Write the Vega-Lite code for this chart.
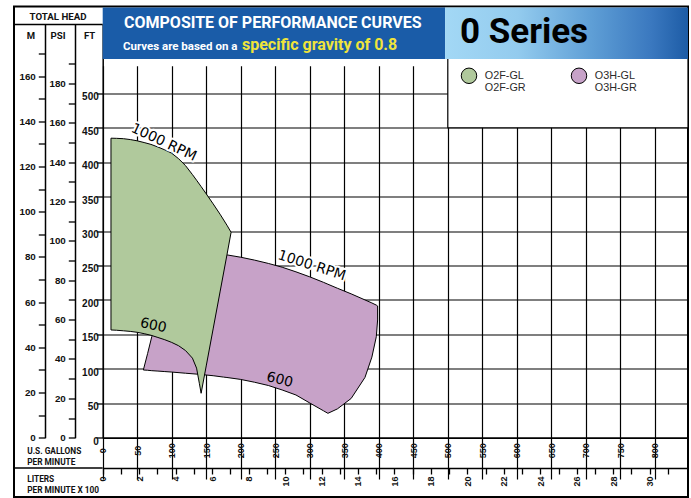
{
  "$schema": "https://vega.github.io/schema/vega-lite/v6.json",
  "width": 674,
  "height": 490.5,
  "autosize": {"type": "none"},
  "padding": {"left": 14, "top": 6.5, "right": 3, "bottom": 1},
  "background": "white",
  "config": {
    "view": {"stroke": "black", "strokeWidth": 2, "fill": "white"},
    "axis": {
      "domainColor": "black", "domainWidth": 1.5,
      "tickColor": "black", "tickWidth": 1.3,
      "gridColor": "black", "gridWidth": 1.2, "gridOpacity": 1,
      "labelColor": "#111", "labelFont": "Liberation Sans", "labelFontWeight": "bold",
      "labelFlush": false, "labelOverlap": false,
      "titleColor": "#111", "titleFont": "Roboto", "titleFontWeight": "bold"
    }
  },
  "datasets": {
    "curves": [
      {"model": "O3H", "gpm": 58.9, "head": 98.3, "head_low": 98.3},
      {"model": "O3H", "gpm": 65, "head": 122, "head_low": 97.9},
      {"model": "O3H", "gpm": 71.1, "head": 146.6, "head_low": 97.3},
      {"model": "O3H", "gpm": 80, "head": 168, "head_low": 96.7},
      {"model": "O3H", "gpm": 90, "head": 190, "head_low": 96.0},
      {"model": "O3H", "gpm": 100, "head": 208, "head_low": 95.3},
      {"model": "O3H", "gpm": 120, "head": 236, "head_low": 93.6},
      {"model": "O3H", "gpm": 140, "head": 255, "head_low": 92.0},
      {"model": "O3H", "gpm": 160, "head": 266, "head_low": 90.0},
      {"model": "O3H", "gpm": 175, "head": 270, "head_low": 88.0},
      {"model": "O3H", "gpm": 180, "head": 265.4, "head_low": 87.4},
      {"model": "O3H", "gpm": 200, "head": 262, "head_low": 84.6},
      {"model": "O3H", "gpm": 220, "head": 257.8, "head_low": 80.5},
      {"model": "O3H", "gpm": 240, "head": 253, "head_low": 75.8},
      {"model": "O3H", "gpm": 260, "head": 247.5, "head_low": 69.3},
      {"model": "O3H", "gpm": 280, "head": 240.8, "head_low": 62},
      {"model": "O3H", "gpm": 300, "head": 233.5, "head_low": 50.4},
      {"model": "O3H", "gpm": 320, "head": 225.5, "head_low": 39},
      {"model": "O3H", "gpm": 326.3, "head": 222.8, "head_low": 35.4},
      {"model": "O3H", "gpm": 340, "head": 217, "head_low": 41.8},
      {"model": "O3H", "gpm": 360, "head": 208.8, "head_low": 57},
      {"model": "O3H", "gpm": 380, "head": 200, "head_low": 87.5},
      {"model": "O3H", "gpm": 390, "head": 195.6, "head_low": 117},
      {"model": "O3H", "gpm": 396.4, "head": 192.5, "head_low": 146.6},
      {"model": "O3H", "gpm": 398.3, "head": 191.2, "head_low": 170.9},
      {"model": "O2F", "gpm": 12, "head": 434.8, "head_low": 156.4},
      {"model": "O2F", "gpm": 20, "head": 434.6, "head_low": 156.0},
      {"model": "O2F", "gpm": 30, "head": 434.1, "head_low": 155.2},
      {"model": "O2F", "gpm": 40, "head": 432.8, "head_low": 154.3},
      {"model": "O2F", "gpm": 50, "head": 431.0, "head_low": 153.0},
      {"model": "O2F", "gpm": 60, "head": 428.5, "head_low": 151.0},
      {"model": "O2F", "gpm": 70, "head": 425.8, "head_low": 148.7},
      {"model": "O2F", "gpm": 80, "head": 422.0, "head_low": 145.5},
      {"model": "O2F", "gpm": 90, "head": 417.8, "head_low": 142.2},
      {"model": "O2F", "gpm": 100, "head": 413.0, "head_low": 138.3},
      {"model": "O2F", "gpm": 110, "head": 405.0, "head_low": 133.5},
      {"model": "O2F", "gpm": 120, "head": 395.0, "head_low": 126.5},
      {"model": "O2F", "gpm": 130, "head": 382.0, "head_low": 115.5},
      {"model": "O2F", "gpm": 136, "head": 373.8, "head_low": 101},
      {"model": "O2F", "gpm": 140, "head": 368.2, "head_low": 79},
      {"model": "O2F", "gpm": 142.6, "head": 364.6, "head_low": 64.5},
      {"model": "O2F", "gpm": 150, "head": 354.0, "head_low": 104.2},
      {"model": "O2F", "gpm": 160, "head": 339.5, "head_low": 157.9},
      {"model": "O2F", "gpm": 170, "head": 324.5, "head_low": 211.6},
      {"model": "O2F", "gpm": 180, "head": 308.5, "head_low": 265.4},
      {"model": "O2F", "gpm": 186, "head": 298.2, "head_low": 298.2}
    ]
  },
  "resolve": {"axis": {"x": "independent", "y": "independent"}},
  "layer": [
    {
      "data": {"name": "curves"},
      "mark": {"type": "area", "stroke": "black", "strokeWidth": 1, "interpolate": "linear", "opacity": 1},
      "encoding": {
        "x": {
          "field": "gpm", "type": "quantitative",
          "scale": {"domain": [0, 848], "range": [88.7, 674], "nice": false, "zero": false},
          "axis": {
            "orient": "bottom", "offset": -59.3,
            "values": [0, 50, 100, 150, 200, 250, 300, 350, 400, 450, 500, 550, 600, 650, 700, 750, 800],
            "grid": true, "ticks": false, "domain": true,
            "labelAngle": 270, "labelAlign": "center", "labelBaseline": "middle", "labelPadding": 12.5, "labelFontSize": 9,
            "title": ["U.S. GALLONS", "PER MINUTE"], "titleX": 12.7, "titleY": 13.6, "titleAlign": "left", "titleBaseline": "middle",
            "titleAngle": 0, "titleFontSize": 8.3, "titleLineHeight": 11
          }
        },
        "y": {
          "field": "head", "type": "quantitative",
          "scale": {"domain": [0, 600], "range": [431.2, 17.9], "nice": false, "zero": false},
          "axis": {
            "orient": "left", "offset": -88.7,
            "values": [0, 50, 100, 150, 200, 250, 300, 350, 400, 450, 500],
            "grid": true, "tickSize": 6.5, "labelPadding": -2.1, "labelOffset": 3.4, "labelFontSize": 10,
            "title": "FT", "titleX": -13.7, "titleY": 28.5, "titleAngle": 0, "titleAlign": "center", "titleBaseline": "middle", "titleFontSize": 9.5
          }
        },
        "y2": {"field": "head_low"},
        "fill": {
          "field": "model", "type": "nominal",
          "scale": {"domain": ["O2F", "O3H"], "range": ["#b0c99c", "#c7a2c8"]},
          "legend": {
            "orient": "none", "legendX": 446.5, "legendY": 60.75, "direction": "horizontal", "columns": 2, "columnPadding": 42,
            "title": null, "padding": 0,
            "symbolType": "circle", "symbolSize": 240, "symbolStrokeColor": "black", "symbolStrokeWidth": 1, "symbolOpacity": 1,
            "labelFont": "Liberation Sans", "labelFontSize": 10.8, "labelColor": "#2a2a2a", "labelOffset": 7.3, "labelBaseline": "middle",
            "labelExpr": "datum.label == 'O2F' ? ['O2F-GL', 'O2F-GR'] : ['O3H-GL', 'O3H-GR']",
            "encode": {"labels": {"update": {"lineHeight": {"value": 12.6}}}}
          }
        }
      }
    },
    {
      "data": {"values": [{}]},
      "mark": {"type": "rect", "fill": "white", "stroke": "black", "strokeWidth": 1.2},
      "encoding": {
        "x": {
          "datum": 500, "type": "quantitative",
          "axis": {
            "orient": "bottom", "offset": -29,
            "values": [0, 26.417, 52.834, 79.251, 105.668, 132.085, 158.502, 184.919, 211.336, 237.753, 264.17, 290.587, 317.004, 343.421, 369.838, 396.255, 422.672, 449.089, 475.506, 501.923, 528.34, 554.757, 581.174, 607.591, 634.008, 660.425, 686.842, 713.259, 739.676, 766.093, 792.51, 818.927],
            "labelExpr": "round(datum.value / 26.417) % 2 == 0 ? '' + round(datum.value / 26.417) : ''",
            "grid": false, "ticks": true, "tickSize": 6, "domain": true,
            "labelAngle": 270, "labelAlign": "right", "labelBaseline": "middle", "labelPadding": 2, "labelFontSize": 9,
            "title": ["LITERS", "PER MINUTE X 100"], "titleX": 12.7, "titleY": 11.7, "titleAlign": "left", "titleBaseline": "middle",
            "titleAngle": 0, "titleFontSize": 8.3, "titleLineHeight": 10.5
          }
        },
        "x2": {"datum": 848},
        "y": {
          "datum": 450, "type": "quantitative",
          "axis": {
            "orient": "left", "offset": -31,
            "values": [0, 32.8084, 65.6168, 98.4252, 131.2336, 164.042, 196.8504, 229.6588, 262.4672, 295.2756, 328.084, 360.8924, 393.7008, 426.5092, 459.3176, 492.126, 524.9344, 557.7428],
            "labelExpr": "round(datum.value * 0.3048) % 20 == 0 ? '' + round(datum.value * 0.3048) : ''",
            "grid": false, "tickSize": 6.7, "labelPadding": 3, "labelFontSize": 9.8,
            "title": "M", "titleX": -14.6, "titleY": 28.5, "titleAngle": 0, "titleAlign": "center", "titleBaseline": "middle", "titleFontSize": 9.5
          }
        },
        "y2": {"datum": 560}
      }
    },
    {
      "data": {"values": [{}]},
      "mark": {"type": "rect", "fill": "#1a5ca8"},
      "encoding": {
        "x": {"datum": 0, "type": "quantitative", "axis": null},
        "x2": {"datum": 496},
        "y": {
          "datum": 549.8, "type": "quantitative",
          "axis": {
            "orient": "left", "offset": -61,
            "values": [0, 28.57, 57.14, 85.71, 114.28, 142.85, 171.42, 199.99, 228.56, 257.13, 285.7, 314.27, 342.84, 371.41, 399.98, 428.55, 457.12, 485.69, 514.26, 542.83],
            "labelExpr": "round(datum.value / 2.857) % 20 == 0 ? '' + round(datum.value / 2.857) : ''",
            "grid": false, "tickSize": 6.7, "labelPadding": 3, "labelFontSize": 9.8,
            "title": ["TOTAL HEAD", "PSI"], "titleX": -17.5, "titleY": 9.5, "titleAngle": 0, "titleAlign": "center", "titleBaseline": "middle",
            "titleFontSize": 9.7, "titleLineHeight": 19
          }
        },
        "y2": {"datum": 624.5}
      }
    },
    {
      "data": {"values": [{}]},
      "mark": {
        "type": "rect",
        "fill": {
          "gradient": "linear", "x1": 0, "y1": 0, "x2": 1, "y2": 0,
          "stops": [
            {"offset": 0, "color": "#a3d8f5"},
            {"offset": 0.3, "color": "#93cbee"},
            {"offset": 0.6, "color": "#5f9fd6"},
            {"offset": 0.85, "color": "#3a78bf"},
            {"offset": 1, "color": "#1d5ca6"}
          ]
        }
      },
      "encoding": {
        "x": {"datum": 496, "type": "quantitative", "axis": null},
        "x2": {"datum": 848},
        "y": {"datum": 549.8, "type": "quantitative", "axis": null},
        "y2": {"datum": 624.5}
      }
    },
    {
      "data": {"values": [{}]},
      "mark": {"type": "rule", "stroke": "black", "strokeWidth": 1.5},
      "encoding": {
        "x": {"datum": -128.5, "type": "quantitative", "axis": null},
        "x2": {"datum": 0},
        "y": {"datum": 600, "type": "quantitative", "axis": null}
      }
    },
    {
      "data": {"values": [{}]},
      "mark": {"type": "rule", "stroke": "black", "strokeWidth": 1.5},
      "encoding": {
        "x": {"datum": -128.5, "type": "quantitative", "axis": null},
        "x2": {"datum": 0},
        "y": {"datum": -44, "type": "quantitative", "axis": null}
      }
    },
    {
      "data": {"values": [{"text": "COMPOSITE OF PERFORMANCE CURVES"}]},
      "mark": {"type": "text", "align": "left", "baseline": "alphabetic", "font": "Roboto", "fontWeight": "bold", "fontSize": 16, "fill": "white"},
      "encoding": {
        "x": {"datum": 30.9, "type": "quantitative", "axis": null},
        "y": {"datum": 595.2, "type": "quantitative", "axis": null},
        "text": {"field": "text"}
      }
    },
    {
      "data": {"values": [{"text": "Curves are based on a"}]},
      "mark": {"type": "text", "align": "left", "baseline": "alphabetic", "font": "Roboto", "fontWeight": "bold", "fontSize": 11.5, "fill": "white"},
      "encoding": {
        "x": {"datum": 29.4, "type": "quantitative", "axis": null},
        "y": {"datum": 562.9, "type": "quantitative", "axis": null},
        "text": {"field": "text"}
      }
    },
    {
      "data": {"values": [{"text": "specific gravity of 0.8"}]},
      "mark": {"type": "text", "align": "left", "baseline": "alphabetic", "font": "Roboto", "fontWeight": "bold", "fontSize": 16, "fill": "#efe43b"},
      "encoding": {
        "x": {"datum": 201.8, "type": "quantitative", "axis": null},
        "y": {"datum": 562.9, "type": "quantitative", "axis": null},
        "text": {"field": "text"}
      }
    },
    {
      "data": {"values": [{"text": "0 Series"}]},
      "mark": {"type": "text", "align": "center", "baseline": "alphabetic", "font": "Roboto", "fontWeight": "bold", "fontSize": 35, "fill": "black"},
      "encoding": {
        "x": {"datum": 610.4, "type": "quantitative", "axis": null},
        "y": {"datum": 573.7, "type": "quantitative", "axis": null},
        "text": {"field": "text"}
      }
    },
    {
      "data": {"values": [{"label": "1000 RPM", "gpm": 88.5, "head": 428.5}]},
      "encoding": {
        "x": {"field": "gpm", "type": "quantitative", "axis": null},
        "y": {"field": "head", "type": "quantitative", "axis": null},
        "text": {"field": "label"}
      },
      "layer": [
        {"mark": {"type": "text", "angle": 25, "font": "DejaVu Sans", "fontSize": 14, "fill": "white", "stroke": "white", "strokeWidth": 4, "strokeJoin": "round"}},
        {"mark": {"type": "text", "angle": 25, "font": "DejaVu Sans", "fontSize": 14, "fill": "black"}}
      ]
    },
    {
      "data": {"values": [{"label": "600", "gpm": 73.3, "head": 162.6}]},
      "encoding": {
        "x": {"field": "gpm", "type": "quantitative", "axis": null},
        "y": {"field": "head", "type": "quantitative", "axis": null},
        "text": {"field": "label"}
      },
      "layer": [
        {"mark": {"type": "text", "angle": 12, "font": "DejaVu Sans", "fontSize": 14, "fill": "black"}}
      ]
    },
    {
      "data": {"values": [{"label": "1000 RPM", "gpm": 302.8, "head": 249.7}]},
      "encoding": {
        "x": {"field": "gpm", "type": "quantitative", "axis": null},
        "y": {"field": "head", "type": "quantitative", "axis": null},
        "text": {"field": "label"}
      },
      "layer": [
        {"mark": {"type": "text", "angle": 18, "font": "DejaVu Sans", "fontSize": 14, "fill": "white", "stroke": "white", "strokeWidth": 4, "strokeJoin": "round"}},
        {"mark": {"type": "text", "angle": 18, "font": "DejaVu Sans", "fontSize": 14, "fill": "black"}}
      ]
    },
    {
      "data": {"values": [{"label": "600", "gpm": 256.4, "head": 83.8}]},
      "encoding": {
        "x": {"field": "gpm", "type": "quantitative", "axis": null},
        "y": {"field": "head", "type": "quantitative", "axis": null},
        "text": {"field": "label"}
      },
      "layer": [
        {"mark": {"type": "text", "angle": 14, "font": "DejaVu Sans", "fontSize": 14, "fill": "#c7a2c8", "stroke": "#c7a2c8", "strokeWidth": 3, "strokeJoin": "round"}},
        {"mark": {"type": "text", "angle": 14, "font": "DejaVu Sans", "fontSize": 14, "fill": "black"}}
      ]
    }
  ]
}
